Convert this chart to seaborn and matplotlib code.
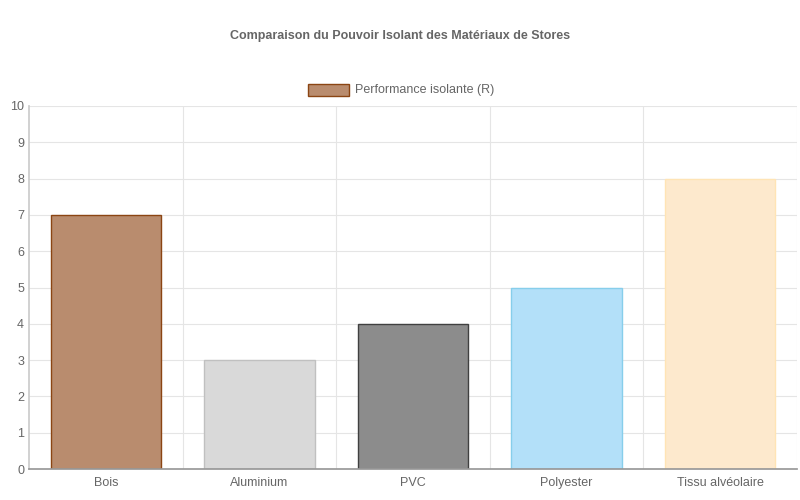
import matplotlib
matplotlib.use("Agg")
import matplotlib.pyplot as plt
import seaborn as sns
import pandas as pd

categories = ["Bois", "Aluminium", "PVC", "Polyester", "Tissu alvéolaire"]
values = [7, 3, 4, 5, 8]
fills = ["#b98c6e", "#d9d9d9", "#8c8c8c", "#b3e0f9", "#fde9cd"]
edges = ["#8b4513", "#c0c0c0", "#404040", "#87ceeb", "#ffe4b5"]

sns.set_theme(style="white")
plt.rcParams['font.family'] = ['Liberation Sans', 'DejaVu Sans']

df = pd.DataFrame({"cat": categories, "val": values})
fig = plt.figure(figsize=(8, 5), dpi=100)
ax = fig.add_axes([29/800, 1-469/500, 768/800, 363/500])
sns.barplot(data=df, x="cat", y="val", hue="cat", palette=fills, legend=False,
            width=0.72, ax=ax, saturation=1)
for p, e in zip(ax.patches, edges):
    p.set_edgecolor(e); p.set_linewidth(1)

ax.set_ylim(0, 10)
ax.set_xlim(-0.5, 4.5)
ax.set_yticks(range(11))
ax.set_xlabel(""); ax.set_ylabel("")
ax.grid(False)
for y in range(1, 11):
    ax.axhline(y, color="#e5e5e5", lw=0.8, zorder=0)
for x in [0.5, 1.5, 2.5, 3.5, 4.5]:
    ax.axvline(x, color="#e5e5e5", lw=0.8, zorder=0)
ax.set_axisbelow(True)
for s in ["top", "right"]:
    ax.spines[s].set_visible(False)
ax.spines["left"].set_color("#cccccc")
ax.spines["bottom"].set_color("#999999")
ax.tick_params(axis="both", colors="#666666", labelsize=9, length=0)
ax.tick_params(axis="x", pad=6)

fig.text(0.5, 1-36/500, "Comparaison du Pouvoir Isolant des Matériaux de Stores",
         ha="center", va="center", fontsize=9, fontweight="bold", color="#666666")
fig.patches.append(plt.Rectangle((308/800, 1-96/500), 41/800, 12/500,
                   transform=fig.transFigure, facecolor=fills[0], edgecolor=edges[0], lw=1))
fig.text(355/800, 1-90/500, "Performance isolante (R)", ha="left", va="center",
         fontsize=9, color="#666666")
fig.savefig("out.png", dpi=100)
